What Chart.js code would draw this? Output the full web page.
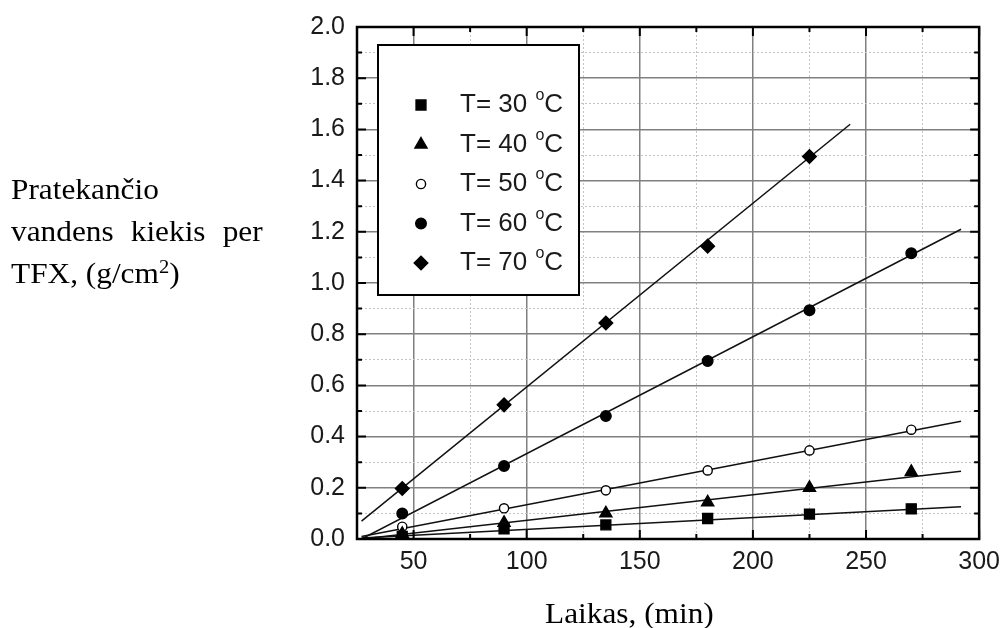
<!DOCTYPE html>
<html>
<head>
<meta charset="utf-8">
<script src="https://cdn.jsdelivr.net/npm/chart.js@4.4.0/dist/chart.umd.min.js"></script>
<style>
  html, body { margin: 0; padding: 0; background: #fff; }
  #wrap { position: relative; width: 1008px; height: 628px; overflow: hidden; }
  #grafikas { position: absolute; left: 0; top: 0; }
  .serif { position: absolute; font-family: "Liberation Serif", "Times New Roman", serif; font-size: 29px; line-height: 42px; color: #000; transform: scaleX(1.08); transform-origin: 0 0; }
  #ylab { left: 11px; top: 168px; width: 233px; }
  #ylab .j { text-align: justify; text-align-last: justify; }
  #ylab .sup { font-size: 19px; vertical-align: 10px; line-height: 0; }
  #xlab { left: 545px; top: 592px; white-space: nowrap; }
</style>
</head>
<body>
<div id="wrap">
  <canvas id="grafikas" width="1008" height="628"></canvas>
  <div id="ylab" class="serif">
    <div>Pratekančio</div>
    <div class="j">vandens kiekis per</div>
    <div>TFX, (g/cm<span class="sup">2</span>)</div>
  </div>
  <div id="xlab" class="serif">Laikas, (min)</div>
</div>
<script>
(function () {

  // laikas, min
  const laikai = [45, 90, 135, 180, 225, 270];

  // pratekejusio vandens kiekis, g/cm2
  const t30 = [0.01, 0.04, 0.055, 0.08, 0.097, 0.118];
  const t40 = [0.02, 0.063, 0.10, 0.143, 0.20, 0.262];
  const t50 = [0.048, 0.12, 0.19, 0.268, 0.346, 0.427];
  const t60 = [0.10, 0.285, 0.48, 0.695, 0.894, 1.116];
  const t70 = [0.197, 0.524, 0.844, 1.144, 1.494];

  // tiesines aproksimacijos (pradzia, pabaiga)
  const fitX = [27, 292];
  const fitX70 = [27, 243];
  const fit30 = [0.004, 0.126];
  const fit40 = [0.0, 0.265];
  const fit50 = [0.01, 0.46];
  const fit60 = [0.0, 1.21];
  const fit70 = [0.07, 1.62];

  const temperaturos = ['30', '40', '50', '60', '70'];
  const xZymes = [50, 100, 150, 200, 250, 300];
  const yZymes = ['0.0', '0.2', '0.4', '0.6', '0.8', '1.0', '1.2', '1.4', '1.6', '1.8', '2.0'];

  const taskai = [
    { y: t30, stilius: 'rect', r: 7, fill: '#000' },
    { y: t40, stilius: 'triangle', r: 7, fill: '#000' },
    { y: t50, stilius: 'circle', r: 4.6, fill: '#fff' },
    { y: t60, stilius: 'circle', r: 5.3, fill: '#000' },
    { y: t70, stilius: 'rectRot', r: 6.8, fill: '#000' }
  ];
  const linijos = [
    [fitX, fit30], [fitX, fit40], [fitX, fit50], [fitX, fit60], [fitX70, fit70]
  ];

  const datasets = [];
  taskai.forEach((s, i) => {
    datasets.push({
      label: 'T= ' + temperaturos[i] + ' °C',
      data: s.y.map((v, j) => ({ x: laikai[j], y: v })),
      pointStyle: s.stilius,
      pointRadius: s.r,
      pointBackgroundColor: s.fill,
      pointBorderColor: '#000',
      pointBorderWidth: 1.4,
      showLine: false,
      order: 1
    });
  });
  linijos.forEach(l => {
    datasets.push({
      type: 'line',
      label: '',
      data: l[0].map((x, j) => ({ x: x, y: l[1][j] })),
      borderColor: '#111',
      borderWidth: 1.5,
      pointRadius: 0,
      fill: false,
      order: 2
    });
  });

  const arMajor = (v, step) => Math.abs(v / step - Math.round(v / step)) < 1e-6;

  // remelis, vidines padalos ir legenda
  const remelis = {
    id: 'remelis',
    afterDatasetsDraw(chart) {
      const ctx = chart.ctx;
      const a = chart.chartArea;
      const xs = chart.scales.x, ys = chart.scales.y;
      ctx.save();
      ctx.strokeStyle = '#000';
      ctx.lineWidth = 2;
      xs.ticks.forEach(t => {
        const px = xs.getPixelForValue(t.value);
        const len = arMajor(t.value, 50) ? 9 : 5;
        ctx.beginPath();
        ctx.moveTo(px, a.bottom); ctx.lineTo(px, a.bottom - len);
        ctx.moveTo(px, a.top); ctx.lineTo(px, a.top + len);
        ctx.stroke();
      });
      ys.ticks.forEach(t => {
        const py = ys.getPixelForValue(t.value);
        const len = arMajor(t.value, 0.2) ? 9 : 5;
        ctx.beginPath();
        ctx.moveTo(a.left, py); ctx.lineTo(a.left + len, py);
        ctx.moveTo(a.right, py); ctx.lineTo(a.right - len, py);
        ctx.stroke();
      });
      ctx.lineWidth = 2.5;
      ctx.strokeRect(a.left, a.top, a.right - a.left, a.bottom - a.top);

      // legenda
      const lx = a.left + 21, ly = a.top + 18, lw = 201, lh = 250;
      ctx.fillStyle = '#fff';
      ctx.fillRect(lx, ly, lw, lh);
      ctx.lineWidth = 2;
      ctx.strokeRect(lx, ly, lw, lh);
      taskai.forEach((s, i) => {
        const cy = ly + 60 + i * 39.5;
        ctx.fillStyle = s.fill;
        ctx.strokeStyle = '#000';
        ctx.lineWidth = 1.4;
        Chart.helpers.drawPoint(ctx, { pointStyle: s.stilius, radius: s.r, rotation: 0, borderWidth: 1.4 }, lx + 43, cy);
        ctx.fillStyle = '#1a1a1a';
        ctx.textBaseline = 'middle';
        ctx.textAlign = 'left';
        ctx.font = '26px "Liberation Sans", Arial, sans-serif';
        const pirma = 'T= ' + temperaturos[i] + ' ';
        let tx = lx + 82;
        ctx.fillText(pirma, tx, cy);
        tx += ctx.measureText(pirma).width + 1;
        ctx.font = '16px "Liberation Sans", Arial, sans-serif';
        ctx.fillText('o', tx, cy - 9);
        tx += ctx.measureText('o').width;
        ctx.font = '26px "Liberation Sans", Arial, sans-serif';
        ctx.fillText('C', tx, cy);
      });
      ctx.restore();
    }
  };

  const tickFont = { family: '"Liberation Sans", Arial, sans-serif', size: 25 };

  new Chart(document.getElementById('grafikas'), {
    type: 'scatter',
    data: { datasets: datasets },
    options: {
      responsive: false,
      animation: false,
      layout: { padding: { top: 25, right: 23, left: 0, bottom: 0 } },
      plugins: {
        legend: { display: false },
        tooltip: { enabled: false }
      },
      scales: {
        x: {
          type: 'linear',
          min: 25,
          max: 300,
          afterFit: s => { s.height = 89; },
          ticks: {
            stepSize: 25,
            autoSkip: false,
            maxRotation: 0,
            padding: 8,
            color: '#1a1a1a',
            font: tickFont,
            callback: v => xZymes.includes(v) ? String(v) : ''
          },
          grid: {
            drawTicks: false,
            color: c => c.tick && arMajor(c.tick.value, 50) ? '#808080' : '#c4c4c4',
            lineWidth: c => c.tick && arMajor(c.tick.value, 50) ? 1.5 : 1
          },
          border: {
            display: false,
            dash: c => c.tick && !arMajor(c.tick.value, 50) ? [2, 2] : []
          }
        },
        y: {
          type: 'linear',
          min: 0,
          max: 2,
          afterFit: s => { s.width = 357; },
          ticks: {
            stepSize: 0.1,
            autoSkip: false,
            padding: 12,
            color: '#1a1a1a',
            font: tickFont,
            callback: v => {
              const l = v.toFixed(1);
              return yZymes.includes(l) ? l : '';
            }
          },
          grid: {
            drawTicks: false,
            color: c => c.tick && arMajor(c.tick.value, 0.2) ? '#808080' : '#c4c4c4',
            lineWidth: c => c.tick && arMajor(c.tick.value, 0.2) ? 1.5 : 1
          },
          border: {
            display: false,
            dash: c => c.tick && !arMajor(c.tick.value, 0.2) ? [2, 2] : []
          }
        }
      }
    },
    plugins: [remelis]
  });

})();
</script>
</body>
</html>
